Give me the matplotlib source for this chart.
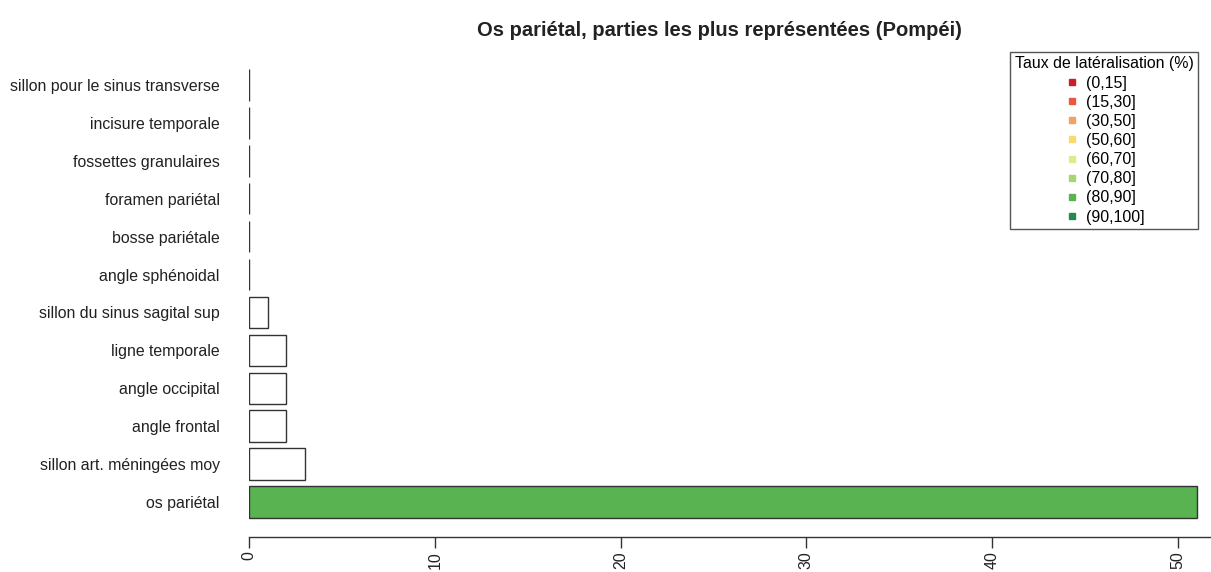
import matplotlib.pyplot as plt
from matplotlib.lines import Line2D

plt.rcParams['font.family'] = ['Liberation Sans', 'DejaVu Sans']

# parts of the parietal bone, bottom to top as drawn
parts = ['os pariétal', 'sillon art. méningées moy', 'angle frontal', 'angle occipital',
         'ligne temporale', 'sillon du sinus sagital sup', 'angle sphénoidal',
         'bosse pariétale', 'foramen pariétal', 'fossettes granulaires',
         'incisure temporale', 'sillon pour le sinus transverse']
counts = [51, 3, 2, 2, 2, 1, 0, 0, 0, 0, 0, 0]
# lateralisation class of each part (None = no colour)
classes = ['(80,90]', None, None, None, None, None, None, None, None, None, None, None]

legend_labels = ['(0,15]', '(15,30]', '(30,50]', '(50,60]', '(60,70]', '(70,80]', '(80,90]', '(90,100]']
legend_colors = ['#C8202A', '#EA5840', '#F2A263', '#F7DB72', '#DDEC88', '#A7D574', '#58B350', '#238C4C']
class_color = dict(zip(legend_labels, legend_colors))

fig = plt.figure(figsize=(12.11, 5.72), dpi=100)
ax = fig.add_axes([249 / 1211, 1 - 537 / 572, 951 / 1211, 487 / 572])

ypos = list(range(len(parts)))
fills = [class_color[c] if c else 'white' for c in classes]
ax.barh(ypos, counts, height=1 / 1.2, color=fills, edgecolor='#333333', linewidth=1.0)

ax.set_xlim(0, 951 / 18.58)
ax.set_ylim(-0.92, len(parts) - 1 + 0.92)

for s in ax.spines.values():
    s.set_visible(False)
ax.plot([0, 60], [0, 0], transform=ax.get_xaxis_transform(), clip_on=False,
        color='#333333', lw=1.0)

ax.set_xticks([0, 10, 20, 30, 40, 50])
ax.set_xticklabels(['0', '10', '20', '30', '40', '50'], rotation=90, fontsize=11.5)
ax.tick_params(axis='x', length=8, width=1.0, color='#333333', pad=2, labelcolor='#222222')
ax.set_yticks(ypos)
ax.set_yticklabels(parts, fontsize=11.4, color='#222222')
ax.tick_params(axis='y', length=0, pad=21)

fig.text(719 / 1211, 1 - 30 / 572, 'Os pariétal, parties les plus représentées (Pompéi)',
         ha='center', va='center', fontsize=14.5, fontweight='bold', color='#222222')

handles = [Line2D([], [], marker='s', linestyle='none', markersize=5, color=c) for c in legend_colors]
leg = ax.legend(handles, legend_labels, title='Taux de latéralisation (%)', loc='upper right',
                bbox_to_anchor=(1.0, 1.0), fontsize=11.5, title_fontsize=11.4,
                frameon=True, fancybox=False, edgecolor='#555555', framealpha=1,
                labelspacing=0.26, handletextpad=0.4, handlelength=1.0,
                borderpad=0.3, borderaxespad=0.1)
leg.get_frame().set_linewidth(1.0)

fig.savefig('out.png', dpi=100)
